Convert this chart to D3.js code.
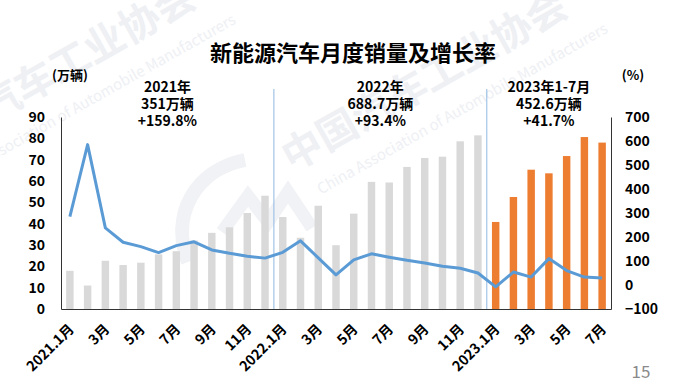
<!DOCTYPE html>
<html>
<head>
<meta charset="utf-8">
<script src="https://cdn.jsdelivr.net/npm/d3@7"></script>
<style>
  body { margin: 0; background: #fff; }
  svg { display: block; font-family: "Noto Sans CJK SC", "Noto Sans", sans-serif; }
</style>
</head>
<body>
<svg id="chart" width="680" height="387"></svg>
<script>
// monthly NEV sales (万辆) and yoy growth (%)
var months = ["2021.1月","2月","3月","4月","5月","6月","7月","8月","9月","10月","11月","12月",
  "2022.1月","2月","3月","4月","5月","6月","7月","8月","9月","10月","11月","12月",
  "2023.1月","2月","3月","4月","5月","6月","7月"];
var keys = months.map(function(m, i) { return "m" + i; });
var sales = [17.9, 11.0, 22.6, 20.6, 21.7, 25.6, 27.1, 32.1, 35.7, 38.3, 45.0, 53.1,
  43.1, 33.4, 48.4, 29.9, 44.7, 59.6, 59.3, 66.6, 70.8, 71.4, 78.6, 81.4,
  40.8, 52.5, 65.3, 63.6, 71.7, 80.6, 78.0];
var growth = [285, 585, 238, 178, 160, 135, 164, 180, 146, 132, 120, 112,
  136, 184, 113, 42, 105, 130, 116, 103, 92, 78, 70, 50,
  -8, 54, 33, 110, 60, 33, 29];
var leftTicks = [0, 10, 20, 30, 40, 50, 60, 70, 80, 90];
var rightTicks = [-100, 0, 100, 200, 300, 400, 500, 600, 700];
var shownMonths = [0, 2, 4, 6, 8, 10, 12, 14, 16, 18, 20, 22, 24, 26, 28, 30];
var yearStarts = [12, 24];
var notes = [
  { from: 0, to: 11, lines: ["2021年", "351万辆", "+159.8%"] },
  { from: 12, to: 23, lines: ["2022年", "688.7万辆", "+93.4%"] },
  { from: 24, to: 30, lines: ["2023年1-7月", "452.6万辆", "+41.7%"] }
];

var svg = d3.select("#chart");
var plotL = 61, plotR = 611, plotT = 117, plotB = 309;

var x = d3.scaleBand().domain(keys).range([plotL, plotR])
  .paddingInner(0.58).paddingOuter(0.29);
var yL = d3.scaleLinear().domain([0, 90]).range([plotB, plotT]);
var yR = d3.scaleLinear().domain([-100, 700]).range([plotB, plotT]);
var cx = function(i) { return x(keys[i]) + x.bandwidth() / 2; };

// faint watermark
function watermark(tx, ty) {
  var w = svg.append("g").attr("transform", "translate(" + tx + "," + ty + ") rotate(-29.5)")
    .attr("fill", "#eef0f4");
  w.append("text").attr("font-size", 40).attr("font-weight", "bold").text("中国汽车工业协会");
  w.append("text").attr("x", 14).attr("y", 34).attr("font-size", 15)
    .text("China Association of Automobile Manufacturers");
}
watermark(292, 172);
watermark(-80, 163);
svg.append("path")
  .attr("d", "M188,262 C170,215 195,170 245,160")
  .attr("fill", "none").attr("stroke", "#f1f2f5").attr("stroke-width", 14);
svg.append("path")
  .attr("d", "M222,232 L248,196 L268,222 L288,192 L312,228")
  .attr("fill", "none").attr("stroke", "#f1f2f5").attr("stroke-width", 13);

// year separators
svg.selectAll("line.sep").data(yearStarts).join("line")
  .attr("class", "sep")
  .attr("x1", function(i) { return x(keys[i]) - x.step() * x.paddingInner() / 2; })
  .attr("x2", function(i) { return x(keys[i]) - x.step() * x.paddingInner() / 2; })
  .attr("y1", 89).attr("y2", plotB)
  .attr("stroke", "#8fb9e3").attr("stroke-width", 1);

// bars
svg.selectAll("rect.bar").data(sales).join("rect")
  .attr("class", "bar")
  .attr("x", function(d, i) { return x(keys[i]); })
  .attr("width", x.bandwidth())
  .attr("y", function(d) { return yL(d); })
  .attr("height", function(d) { return yL(0) - yL(d); })
  .attr("fill", function(d, i) { return i >= 24 ? "#ed7d31" : "#d9d9d9"; });

// growth line
var line = d3.line()
  .x(function(d, i) { return cx(i); })
  .y(function(d) { return yR(d); });
svg.append("path").datum(growth)
  .attr("d", line)
  .attr("fill", "none").attr("stroke", "#5b9bd5")
  .attr("stroke-width", 3).attr("stroke-linejoin", "round");

// axes
function styleAxis(g) {
  g.selectAll("text").attr("font-size", 14).attr("font-weight", "bold").attr("fill", "#000")
    .attr("font-family", "\"Noto Sans CJK SC\", sans-serif");
  g.select(".domain").attr("stroke", "#333");
}
svg.append("g").attr("transform", "translate(" + plotL + ",0)")
  .call(d3.axisLeft(yL).tickValues(leftTicks).tickSize(0).tickPadding(16))
  .call(styleAxis);
svg.append("g").attr("transform", "translate(" + plotR + ",0)")
  .call(d3.axisRight(yR).tickValues(rightTicks).tickSize(0).tickPadding(14))
  .call(styleAxis);
svg.append("g").attr("transform", "translate(0," + plotB + ")")
  .call(d3.axisBottom(x).tickValues([]).tickSize(0))
  .call(styleAxis);

// rotated month labels
svg.selectAll("text.xl").data(shownMonths).join("text")
  .attr("class", "xl")
  .attr("transform", function(i) { return "translate(" + (cx(i) + 5) + ",330) rotate(-45)"; })
  .attr("text-anchor", "end")
  .attr("font-size", 14).attr("font-weight", "bold")
  .text(function(i) { return months[i]; });

// title and units
svg.append("text").attr("x", 353).attr("y", 61).attr("text-anchor", "middle")
  .attr("font-size", 22).attr("font-weight", "bold").text("新能源汽车月度销量及增长率");
svg.append("text").attr("x", 70).attr("y", 80).attr("text-anchor", "middle")
  .attr("font-size", 13).attr("font-weight", "bold").text("(万辆)");
svg.append("text").attr("x", 633).attr("y", 80).attr("text-anchor", "middle")
  .attr("font-size", 13).attr("font-weight", "bold").text("(%)");

// year annotations
notes.forEach(function(n) {
  var mx = (cx(n.from) + cx(n.to)) / 2;
  var t = svg.append("text").attr("text-anchor", "middle")
    .attr("font-size", 14).attr("font-weight", "bold");
  n.lines.forEach(function(s, k) {
    t.append("tspan").attr("x", mx).attr("y", 92 + k * 17).text(s);
  });
});

// page number
svg.append("text").attr("x", 641).attr("y", 378).attr("text-anchor", "middle")
  .attr("font-size", 17).attr("fill", "#8a8a8a").text("15");
</script>
</body>
</html>
